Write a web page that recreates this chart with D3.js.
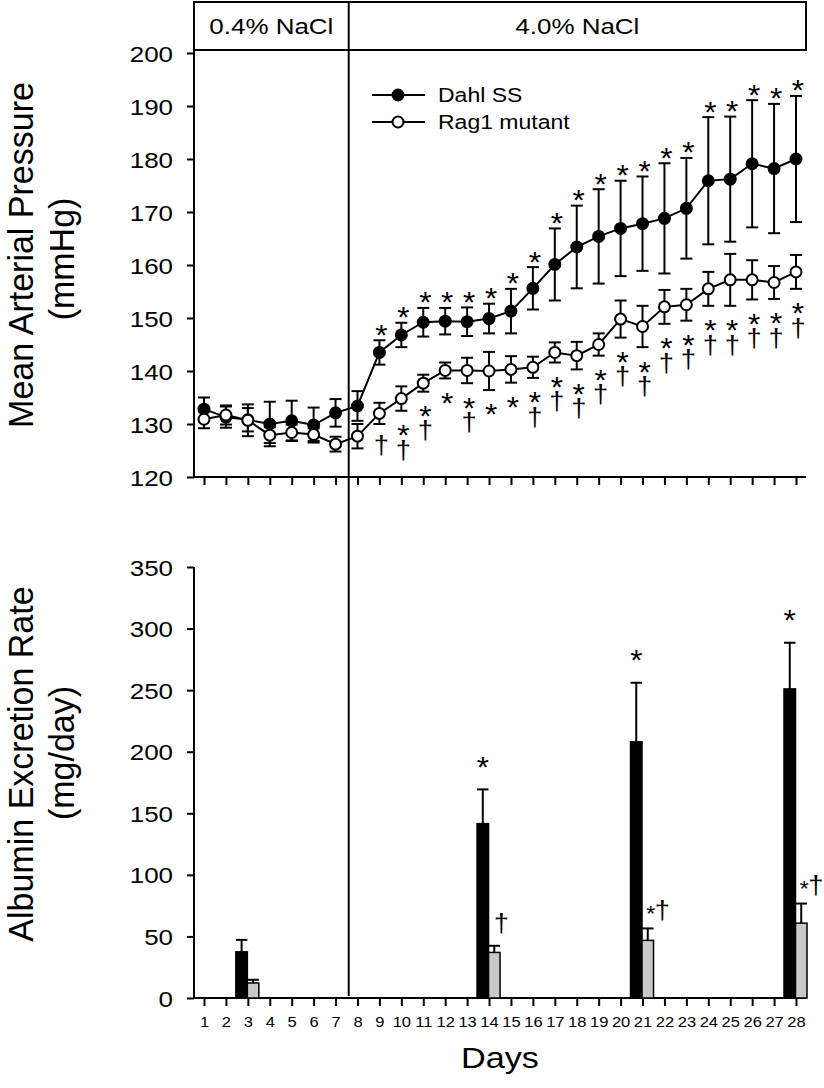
<!DOCTYPE html>
<html lang="en">
<head>
<meta charset="UTF-8">
<title>MAP and albumin excretion</title>
<script src="https://d3js.org/d3.v7.min.js"></script>
<style>
  body { margin: 0; background: #fff; }
  svg text { font-family: "Liberation Sans", Arial, sans-serif; fill: #000; }
</style>
</head>
<body>
<div id="chart"></div>
<script>
// ---- data ----
const days = [1,2,3,4,5,6,7,8,9,10,11,12,13,14,15,16,17,18,19,20,21,22,23,24,25,26,27,28];

// mean arterial pressure (mmHg), mean and SE
const dahlMap = [132.8,131.3,130.8,130.0,130.6,129.8,132.1,133.4,143.5,146.8,149.2,149.4,149.3,149.9,151.3,155.6,160.1,163.4,165.4,166.9,167.8,168.8,170.7,175.9,176.2,179.1,178.2,180.0];
const dahlMapSE = [2.2,2.0,2.2,4.2,3.8,3.3,2.6,2.8,2.3,2.3,2.7,2.5,2.7,2.8,4.2,4.0,6.8,7.8,8.9,9.0,8.9,10.4,9.5,12.0,11.8,12.0,12.2,11.9];
const ragMap = [130.9,131.7,130.7,127.9,128.4,128.0,126.2,127.7,132.0,134.8,137.7,140.1,140.1,140.0,140.3,140.7,143.5,142.9,145.0,149.8,148.4,152.1,152.5,155.5,157.2,157.2,156.7,158.7];
const ragMapSE = [1.7,1.8,3.0,1.5,1.5,1.2,1.4,2.3,2.0,2.3,1.6,1.5,2.4,3.6,2.5,2.0,1.9,2.6,2.1,3.5,3.9,3.2,3.0,3.2,4.9,3.7,3.1,3.2];
const dahlMapSig = ["","","","","","","","","*","*","*","*","*","*","*","*","*","*","*","*","*","*","*","*","*","*","*","*"];
const ragMapSig = ["","","","","","","","","†","*†","*†","*","*†","*","*","*†","*†","*†","*†","*†","*†","*†","*†","*†","*†","*†","*†","*†"];

// albumin excretion (mg/day)
const albDays = [3, 14, 21, 28];
const albDahl = [37.5, 141.6, 208, 251];
const albDahlSE = [9.7, 27.8, 48, 37.5];
const albRag = [12.2, 37.0, 46.8, 60.8];
const albRagSE = [2.6, 5.4, 9.7, 15.9];
const albDahlSig = ["", "*", "*", "*"];
const albRagSig = ["", "†", "*†", "*†"];

const mapTicks = [120,130,140,150,160,170,180,190,200];
const albTicks = [0,50,100,150,200,250,300,350];
const saltChangeDay = 7.6;
const periods = ["0.4% NaCl", "4.0% NaCl"];
const seriesNames = ["Dahl SS", "Rag1 mutant"];

// ---- layout ----
const W = 824, H = 1088;
const SX = 1.18; // text in the figure is drawn a bit wide
const left = 194, right = 806;

const svg = d3.select("#chart").append("svg").attr("width", W).attr("height", H);

function txt(sel, x, y, s, size, anchor, rot, sx) {
  return sel.append("text")
    .attr("transform", "translate(" + x + "," + y + ") scale(" + (sx || SX) + ",1)" + (rot ? " rotate(-90)" : ""))
    .attr("text-anchor", anchor || "middle")
    .style("font-size", size + "px")
    .text(s);
}

const x = d3.scaleLinear().domain([1, 28]).range([204, 796]);
const yTop = d3.scaleLinear().domain([120, 200]).range([477, 53]);
const yBot = d3.scaleLinear().domain([0, 350]).range([998, 567]);

// ---- salt period box ----
svg.append("rect").attr("x", left).attr("y", 2).attr("width", right - left).attr("height", 48)
  .attr("fill", "none").attr("stroke", "#000").attr("stroke-width", 2);
txt(svg, (left + x(saltChangeDay)) / 2, 34, periods[0], 22);
txt(svg, (x(saltChangeDay) + right) / 2, 34, periods[1], 22);

// ---- axes ----
function yAxis(scale, ticks, y0, y1) {
  const g = svg.append("g").attr("transform", "translate(" + left + ",0)")
    .call(d3.axisLeft(scale).tickValues(ticks).tickSize(7).tickSizeOuter(0));
  g.select(".domain").remove();
  g.selectAll("line").attr("stroke", "#000").attr("stroke-width", 2);
  g.selectAll("text").attr("x", null).attr("dy", null)
    .attr("transform", "translate(-21,8) scale(" + SX + ",1)")
    .style("font-size", "22px").attr("font-family", null);
  g.append("line").attr("y1", y0).attr("y2", y1).attr("stroke", "#000").attr("stroke-width", 2);
}
function xAxis(yPos, labels) {
  const g = svg.append("g").attr("transform", "translate(0," + yPos + ")")
    .call(d3.axisBottom(x).tickValues(days).tickSize(8).tickSizeOuter(0).tickFormat(labels ? d3.format("d") : ""));
  g.select(".domain").remove();
  g.selectAll("line").attr("stroke", "#000").attr("stroke-width", 2);
  g.selectAll("text").attr("y", null).attr("dy", null)
    .attr("transform", "translate(0,29) scale(" + SX + ",1)")
    .style("font-size", "14px").attr("font-family", null);
  g.append("line").attr("x1", left).attr("x2", right).attr("stroke", "#000").attr("stroke-width", 2);
}
yAxis(yTop, mapTicks, 50, 477);
xAxis(477, false);
yAxis(yBot, albTicks, 567, 998);
xAxis(998, true);

// salt switch line
svg.append("line").attr("x1", x(saltChangeDay)).attr("x2", x(saltChangeDay))
  .attr("y1", 2).attr("y2", 996).attr("stroke", "#000").attr("stroke-width", 2);

// axis titles
txt(svg, 33, 255, "Mean Arterial Pressure", 34, "middle", true, 1.05);
txt(svg, 74, 259, "(mmHg)", 34, "middle", true, 1.05);
txt(svg, 33, 764, "Albumin Excretion Rate", 34, "middle", true, 1.05);
txt(svg, 74, 753, "(mg/day)", 34, "middle", true, 1.05);
txt(svg, 500, 1068, "Days", 29);

// ---- top panel: MAP ----
const dahlPts = days.map((d, i) => ({ d: d, m: dahlMap[i], se: dahlMapSE[i], sig: dahlMapSig[i] }));
const ragPts = days.map((d, i) => ({ d: d, m: ragMap[i], se: ragMapSE[i], sig: ragMapSig[i] }));

function errBars(pts) {
  const g = svg.append("g").attr("stroke", "#000").attr("stroke-width", 2);
  pts.forEach(p => {
    const cx = x(p.d), y1 = yTop(p.m + p.se), y2 = yTop(p.m - p.se);
    g.append("line").attr("x1", cx).attr("x2", cx).attr("y1", y1).attr("y2", y2);
    g.append("line").attr("x1", cx - 6).attr("x2", cx + 6).attr("y1", y1).attr("y2", y1);
    g.append("line").attr("x1", cx - 6).attr("x2", cx + 6).attr("y1", y2).attr("y2", y2);
  });
}
errBars(dahlPts);
errBars(ragPts);

const line = d3.line().x(p => x(p.d)).y(p => yTop(p.m));
function series(pts, fill) {
  svg.append("path").datum(pts).attr("d", line).attr("fill", "none").attr("stroke", "#000").attr("stroke-width", 2);
  svg.selectAll(null).data(pts).enter().append("circle")
    .attr("cx", p => x(p.d)).attr("cy", p => yTop(p.m)).attr("r", 5.5)
    .attr("fill", fill).attr("stroke", "#000").attr("stroke-width", 2);
}
series(dahlPts, "#000");
series(ragPts, "#fff");

// significance marks: one text per mark group, symbols as tspans
// each item: [symbol, dx, centre dy, font size]
function marks(cx, cy, items) {
  const t = svg.append("text").attr("transform", "translate(" + cx + "," + cy + ") scale(1.05,1)")
    .attr("text-anchor", "middle");
  items.forEach(it => {
    const k = it[0] === "*" ? 0.58 : 0.3;
    t.append("tspan").attr("x", it[1]).attr("y", it[2] + it[3] * k)
      .style("font-size", it[3] + "px").text(it[0]);
  });
}
dahlPts.forEach(p => {
  if (p.sig) marks(x(p.d) + 2, yTop(p.m + p.se) - 13, [["*", 0, 0, 30]]);
});
ragPts.forEach(p => {
  if (!p.sig) return;
  const items = [];
  let off = 0;
  if (p.sig.indexOf("*") >= 0) { off = 17; items.push(["*", 0, off, 30]); }
  if (p.sig.indexOf("†") >= 0) { off += off ? 23 : 22; items.push(["†", 0, off, 26]); }
  marks(x(p.d) + 2, yTop(p.m - p.se), items);
});

// legend
const legend = [{ name: seriesNames[0], fill: "#000", y: 95 }, { name: seriesNames[1], fill: "#fff", y: 122 }];
legend.forEach(l => {
  svg.append("line").attr("x1", 372).attr("x2", 425).attr("y1", l.y).attr("y2", l.y).attr("stroke", "#000").attr("stroke-width", 2);
  svg.append("circle").attr("cx", 398).attr("cy", l.y).attr("r", 5.5).attr("fill", l.fill).attr("stroke", "#000").attr("stroke-width", 2);
  txt(svg, 438, l.y + 7, l.name, 19.5, "start");
});

// ---- bottom panel: albumin ----
const groups = d3.scaleBand().domain(["dahl", "rag"]).range([-12, 11]).padding(0);
const albData = albDays.map((d, i) => ([
  { d: d, key: "dahl", v: albDahl[i], se: albDahlSE[i], sig: albDahlSig[i], fill: "#000" },
  { d: d, key: "rag", v: albRag[i], se: albRagSE[i], sig: albRagSig[i], fill: "#c8c8c8" }
])).flat();

const bars = svg.append("g");
albData.forEach(b => {
  const bx = x(b.d) + groups(b.key), bw = groups.bandwidth(), cx = bx + bw / 2;
  const top = yBot(b.v + b.se);
  bars.append("line").attr("x1", cx).attr("x2", cx).attr("y1", yBot(b.v)).attr("y2", top).attr("stroke", "#000").attr("stroke-width", 2);
  bars.append("line").attr("x1", bx).attr("x2", bx + bw).attr("y1", top).attr("y2", top).attr("stroke", "#000").attr("stroke-width", 2);
  bars.append("rect").attr("x", bx).attr("y", yBot(b.v)).attr("width", bw).attr("height", yBot(0) - yBot(b.v))
    .attr("fill", b.fill).attr("stroke", "#000").attr("stroke-width", 1.5);
  if (b.key === "dahl" && b.sig) marks(cx, top - 30, [["*", 0, 0, 30]]);
  if (b.key === "rag" && b.sig) {
    if (b.sig.indexOf("*") >= 0) marks(cx + 3, top - 20, [["*", 0, 0, 22], ["†", 11, 3, 26]]);
    else marks(cx + 7, top - 22, [["†", 0, 0, 26]]);
  }
});
</script>
</body>
</html>
